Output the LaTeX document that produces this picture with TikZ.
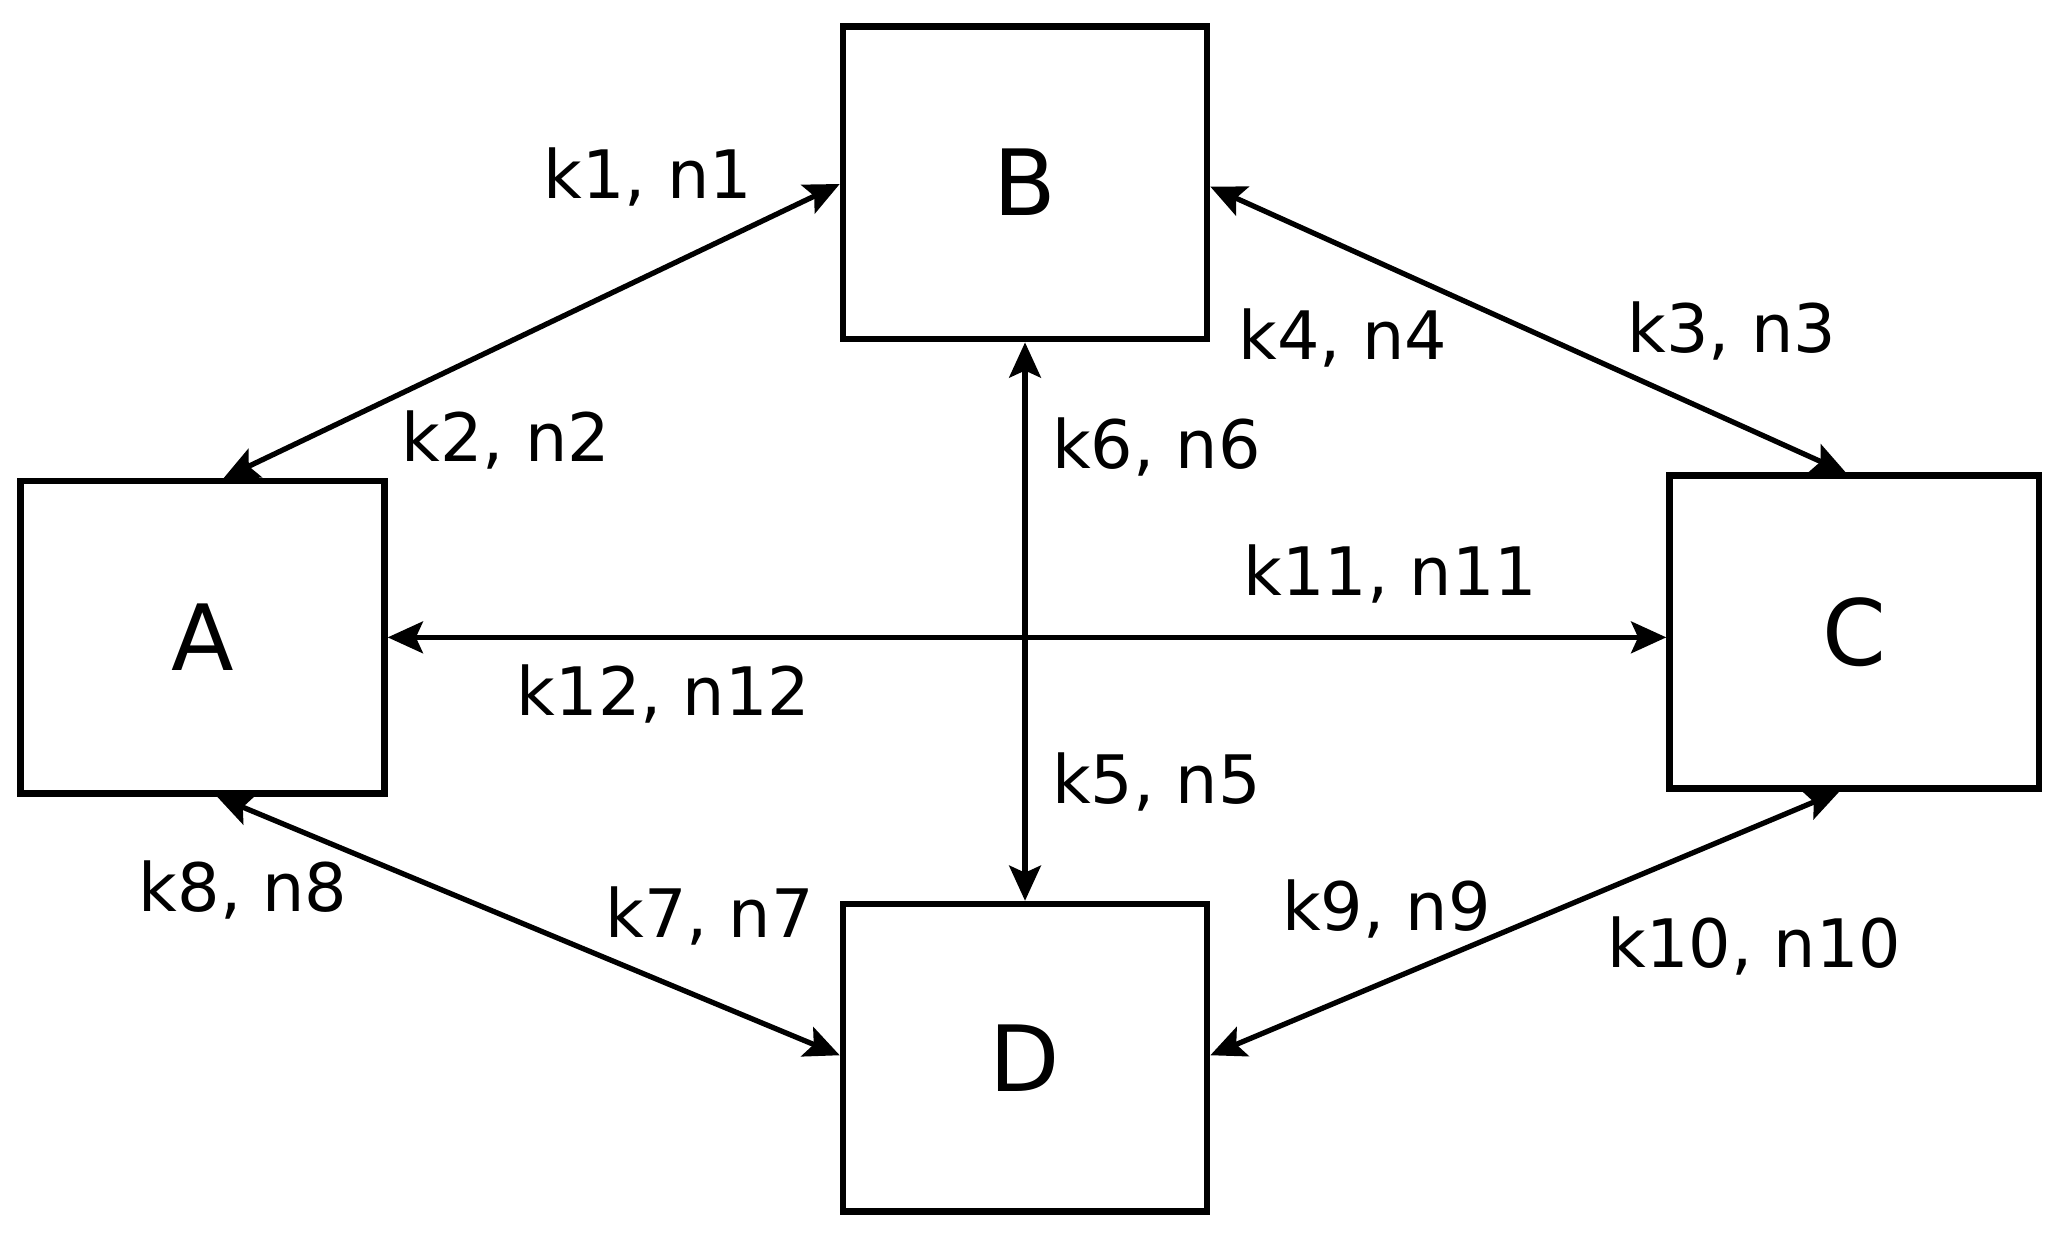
\documentclass[tikz,border=0pt]{standalone}
\usepackage{fontspec}
\setmainfont{DejaVu Sans}
\usetikzlibrary{arrows.meta}
\begin{document}
\begin{tikzpicture}[x=0.01314cm,y=-0.01314cm,
 box/.style={draw,line width=1.9pt,minimum width=277*0.01314cm,minimum height=238*0.01314cm,inner sep=0pt,font=\fontsize{26}{30}\selectfont},
 con/.style={line width=1.5pt,{Stealth[length=10pt,width=9pt,inset=2pt]}-{Stealth[length=10pt,width=9pt,inset=2pt]}},
 lab/.style={font=\fontsize{19}{22}\selectfont}]
\useasboundingbox (0,0) rectangle (1563,941);
\node[box] (B) at (780,139) {B};
\node[box] (A) at (154,485) {A};
\node[box,minimum width=281*0.01314cm] (C) at (1411,481) {C};
\node[box,minimum height=234*0.01314cm] (D) at (780,805) {D};
\coordinate (a1) at (170,364);
\coordinate (b1) at (639,140);
\coordinate (b2) at (921,142);
\coordinate (c1) at (1405,360);
\coordinate (a2) at (165,606);
\coordinate (d1) at (639,803);
\coordinate (d2) at (921,803);
\coordinate (c2) at (1400,602);
\draw[con] (a1) -- (b1);
\draw[con] (b2) -- (c1);
\draw[con] (A.east) -- (A.east -| C.west);
\draw[con] (B.south) -- (D.north);
\draw[con] (a2) -- (d1);
\draw[con] (d2) -- (c2);
\node[lab] (l1) at (493,135) {k1, n1};
\node[lab] (l2) at (385,335) {k2, n2};
\node[lab] (l4) at (1022,257) {k4, n4};
\node[lab] (l3) at (1318,252) {k3, n3};
\node[lab] (l6) at (880,340) {k6, n6};
\node[lab] (l11) at (1058,437) {k11, n11};
\node[lab] (l12) at (505,528) {k12, n12};
\node[lab] (l5) at (880,595) {k5, n5};
\node[lab] (l8) at (185,677) {k8, n8};
\node[lab] (l7) at (540,697) {k7, n7};
\node[lab] (l9) at (1055,692) {k9, n9};
\node[lab] (l10) at (1335,720) {k10, n10};
\end{tikzpicture}
\end{document}
